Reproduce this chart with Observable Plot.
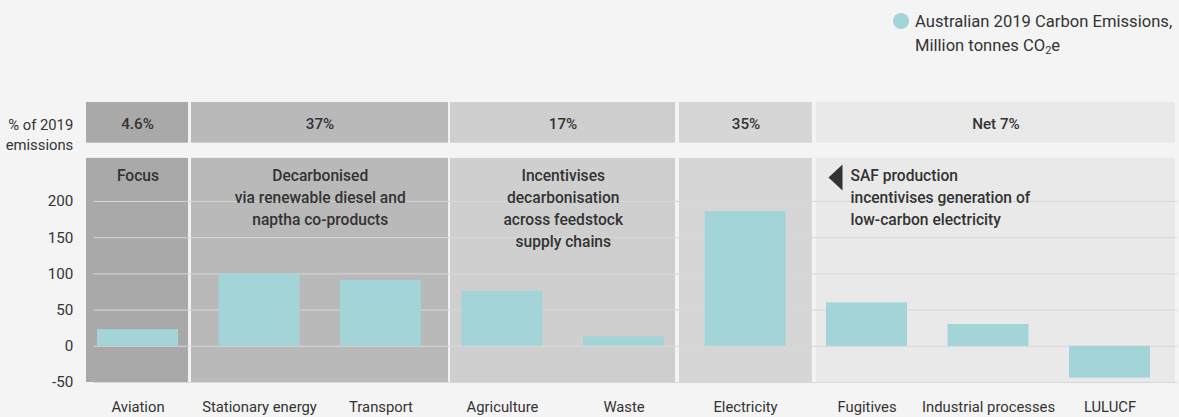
<!DOCTYPE html>
<html>
<head>
<meta charset="utf-8">
<script src="https://cdn.jsdelivr.net/npm/d3@7"></script>
<script src="https://cdn.jsdelivr.net/npm/@observablehq/plot@0.6"></script>
<style>
  html, body { margin: 0; padding: 0; background: #f4f4f4; }
  #wrap { position: relative; width: 1179px; height: 417px; font-family: Roboto, "Noto Sans", sans-serif; color: #333; }
  #legend { position: relative; height: 80px; }
  #legend .dot { position: absolute; left: 893px; top: 13px; width: 16px; height: 16px; border-radius: 50%; background: #a3d4d8; }
  #legend .txt { position: absolute; left: 915px; top: 10px; font-size: 16.6px; line-height: 24px; color: #333; }
  #legend sub { font-size: 11px; vertical-align: -3px; line-height: 0; }
  #chart svg { display: block; }
</style>
</head>
<body>
<div id="wrap">
  <div id="legend">
    <div class="dot"></div>
    <div class="txt">Australian 2019 Carbon Emissions,<br>Million tonnes CO<sub>2</sub>e</div>
  </div>
  <div id="chart"></div>
</div>
<script>
// ---- data ----
const categories = ["Aviation", "Stationary energy", "Transport", "Agriculture", "Waste", "Electricity", "Fugitives", "Industrial processes", "LULUCF"];
const emissions = [23, 100, 91, 76, 13, 186, 60, 30, -44];
const yTicks = [-50, 0, 50, 100, 150, 200];

const groupShares = ["4.6%", "37%", "17%", "35%", "Net 7%"];
const groupFirst = [0, 1, 3, 5, 6];
const groupLast = [0, 2, 4, 5, 8];
const groupNotes = [
  "Focus",
  "Decarbonised\nvia renewable diesel and\nnaptha co-products",
  "Incentivises\ndecarbonisation\nacross feedstock\nsupply chains",
  "",
  "SAF production\nincentivises generation of\nlow-carbon electricity"
];
// panel extents, in category units
const groupStart = [-0.424, 0.440, 2.572, 4.457, 5.584];
const groupEnd = [0.416, 2.556, 4.424, 5.551, 8.539];

// ---- styles ----
const panelColors = ["#a9a9a9", "#b9b9b9", "#cfcfcf", "#d6d6d6", "#e9e9e9"];
const barColor = "#a3d4d8";

const rows = categories.map((c, i) => ({i, c, v: emissions[i]}));
const panels = groupShares.map((s, k) => ({
  k, share: s, note: groupNotes[k],
  x1: groupStart[k], x2: groupEnd[k],
  mid: (groupFirst[k] + groupLast[k]) / 2,
  fill: panelColors[k]
}));

const leftTriangle = {
  draw(ctx, size) {
    const s = Math.sqrt(size / Math.PI);
    const w = s * 0.54;
    ctx.moveTo(-w, 0);
    ctx.lineTo(w, -s);
    ctx.lineTo(w, s);
    ctx.closePath();
  }
};

const chart = Plot.plot({
  width: 1179,
  height: 337,
  marginLeft: 76.75,
  marginRight: 8.75,
  marginTop: 19.6,
  marginBottom: 35,
  x: {type: "linear", domain: [-0.5, 8.5], label: null},
  y: {domain: [-50, 340], label: null},
  style: {background: "transparent", fontFamily: "Roboto, 'Noto Sans', sans-serif", fontSize: "15px", color: "#333"},
  marks: [
    // top share band
    Plot.rect(panels, {x1: "x1", x2: "x2", y1: 280.5, y2: 336.7, fill: "fill"}),
    // lower panels
    Plot.rect(panels, {x1: "x1", x2: "x2", y1: -50, y2: 259.5, fill: "fill"}),
    Plot.gridY(yTicks, {stroke: "#d7d7d7", strokeOpacity: 1, strokeWidth: 1, insetLeft: 17, insetRight: -7}),
    Plot.rectY(rows, {x1: d => d.i - 1/3, x2: d => d.i + 1/3, y1: 0, y2: "v", fill: barColor}),
    Plot.axisY(yTicks, {tickSize: 0, tickPadding: 4, fontSize: 15.2, fill: "#333", label: null, tickFormat: d => String(d)}),
    Plot.axisX(d3.range(categories.length), {tickFormat: i => categories[i], tickSize: 0, tickPadding: 19, fontSize: 14.8, fill: "#333", label: null}),
    // share labels
    Plot.text(panels, {x: d => (d.x1 + d.x2) / 2, y: 306.4, text: "share", fontSize: 15.2, fontWeight: 500, fill: "#333"}),
    Plot.text(["% of 2019\nemissions"], {text: d => d, frameAnchor: "left", y: 293.9, textAnchor: "end", dx: -4, lineHeight: 1.35, fontSize: 14.8, fill: "#333"}),
    // centred notes
    Plot.text(panels.filter(d => d.k < 3), {x: "mid", y: 249.2, text: "note", lineAnchor: "top", lineHeight: 1.4, fontSize: 15.6, fontWeight: 500, fill: "#333"}),
    // left-aligned note on the last panel
    Plot.text(panels.filter(d => d.k === 4), {x: 5.864, y: 249.2, text: "note", textAnchor: "start", lineAnchor: "top", lineHeight: 1.4, fontSize: 15.6, fontWeight: 500, fill: "#333"}),
    Plot.dot([0], {x: 5.7407, y: 233.1, r: 13, symbol: leftTriangle, fill: "#333", stroke: null})
  ]
});
document.getElementById("chart").appendChild(chart);
</script>
</body>
</html>
